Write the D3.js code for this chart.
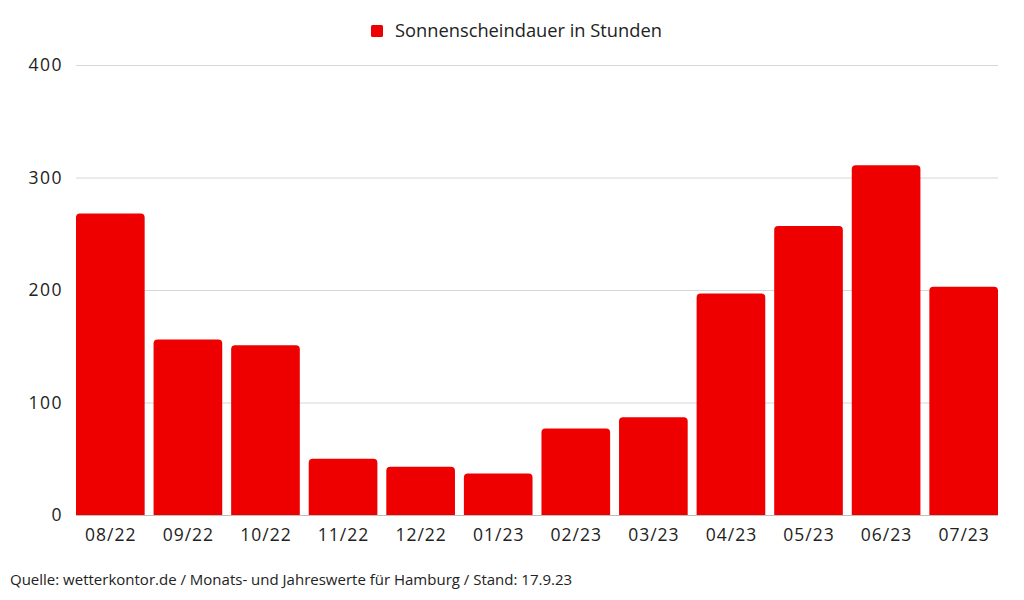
<!DOCTYPE html>
<html><head><meta charset="utf-8">
<script src="https://cdn.jsdelivr.net/npm/d3@7"></script>
<style>body{margin:0;background:#fff}svg{display:block}</style>
</head><body>
<svg id="c" width="1024" height="600"></svg>
<script>
const categories = ["08/22","09/22","10/22","11/22","12/22","01/23","02/23","03/23","04/23","05/23","06/23","07/23"];
const sunshineHours = [268,156,151,50,43,37,77,87,197,257,311,203];
const yTicks = [0,100,200,300,400];
const seriesName = "Sonnenscheindauer in Stunden";
const footerText = "Quelle: wetterkontor.de / Monats- und Jahreswerte für Hamburg / Stand: 17.9.23";

const svg = d3.select("#c");
const font = "'Open Sans', sans-serif";
const m = {left:76, right:998, top:65, bottom:515};
const x = d3.scaleBand().domain(categories).range([m.left, m.right]).paddingInner(0.115).paddingOuter(0);
const y = d3.scaleLinear().domain([0,400]).range([m.bottom, m.top]);
const color = "#ee0000";

// grid
svg.append("g").selectAll("line").data(yTicks).join("line")
  .attr("x1", m.left).attr("x2", m.right)
  .attr("y1", d=>y(d)+0.5).attr("y2", d=>y(d)+0.5)
  .attr("stroke", d=> d===0 ? "#bdbdbd" : "#d6d6d6").attr("stroke-width",1);

// y labels
svg.append("g").selectAll("text").data(yTicks).join("text")
  .attr("x", 63).attr("y", d=>y(d)).attr("dy","0.35em")
  .attr("text-anchor","end").attr("font-family",font).attr("font-size",17.5)
  .attr("letter-spacing","1.5px").attr("fill","#222")
  .text(d=>d);

// bars with rounded top corners
const r = 4;
svg.append("g").selectAll("path").data(categories).join("path")
  .attr("fill", color)
  .attr("d", (c,i)=>{
    const x0 = x(c), w = x.bandwidth(), yt = y(sunshineHours[i]), yb = y(0);
    return `M${x0},${yb}V${yt+r}Q${x0},${yt} ${x0+r},${yt}H${x0+w-r}Q${x0+w},${yt} ${x0+w},${yt+r}V${yb}Z`;
  });

// x labels
svg.append("g").selectAll("text").data(categories).join("text")
  .attr("x", c=>x(c)+x.bandwidth()/2+0.5).attr("y", 535).attr("dy","0.35em")
  .attr("text-anchor","middle").attr("font-family",font).attr("font-size",17.5)
  .attr("letter-spacing","1px").attr("fill","#222")
  .text(c=>c);

// legend
svg.append("rect").attr("x",371).attr("y",25).attr("width",12).attr("height",12).attr("rx",1.5).attr("fill",color);
svg.append("text").attr("x",395).attr("y",31).attr("dy","0.35em")
  .attr("font-family",font).attr("font-size",18.3).attr("fill","#222").text(seriesName);

// footer
svg.append("text").attr("x",10).attr("y",580).attr("dy","0.35em")
  .attr("font-family",font).attr("font-size",15).attr("fill","#222").text(footerText);
</script>
</body></html>
